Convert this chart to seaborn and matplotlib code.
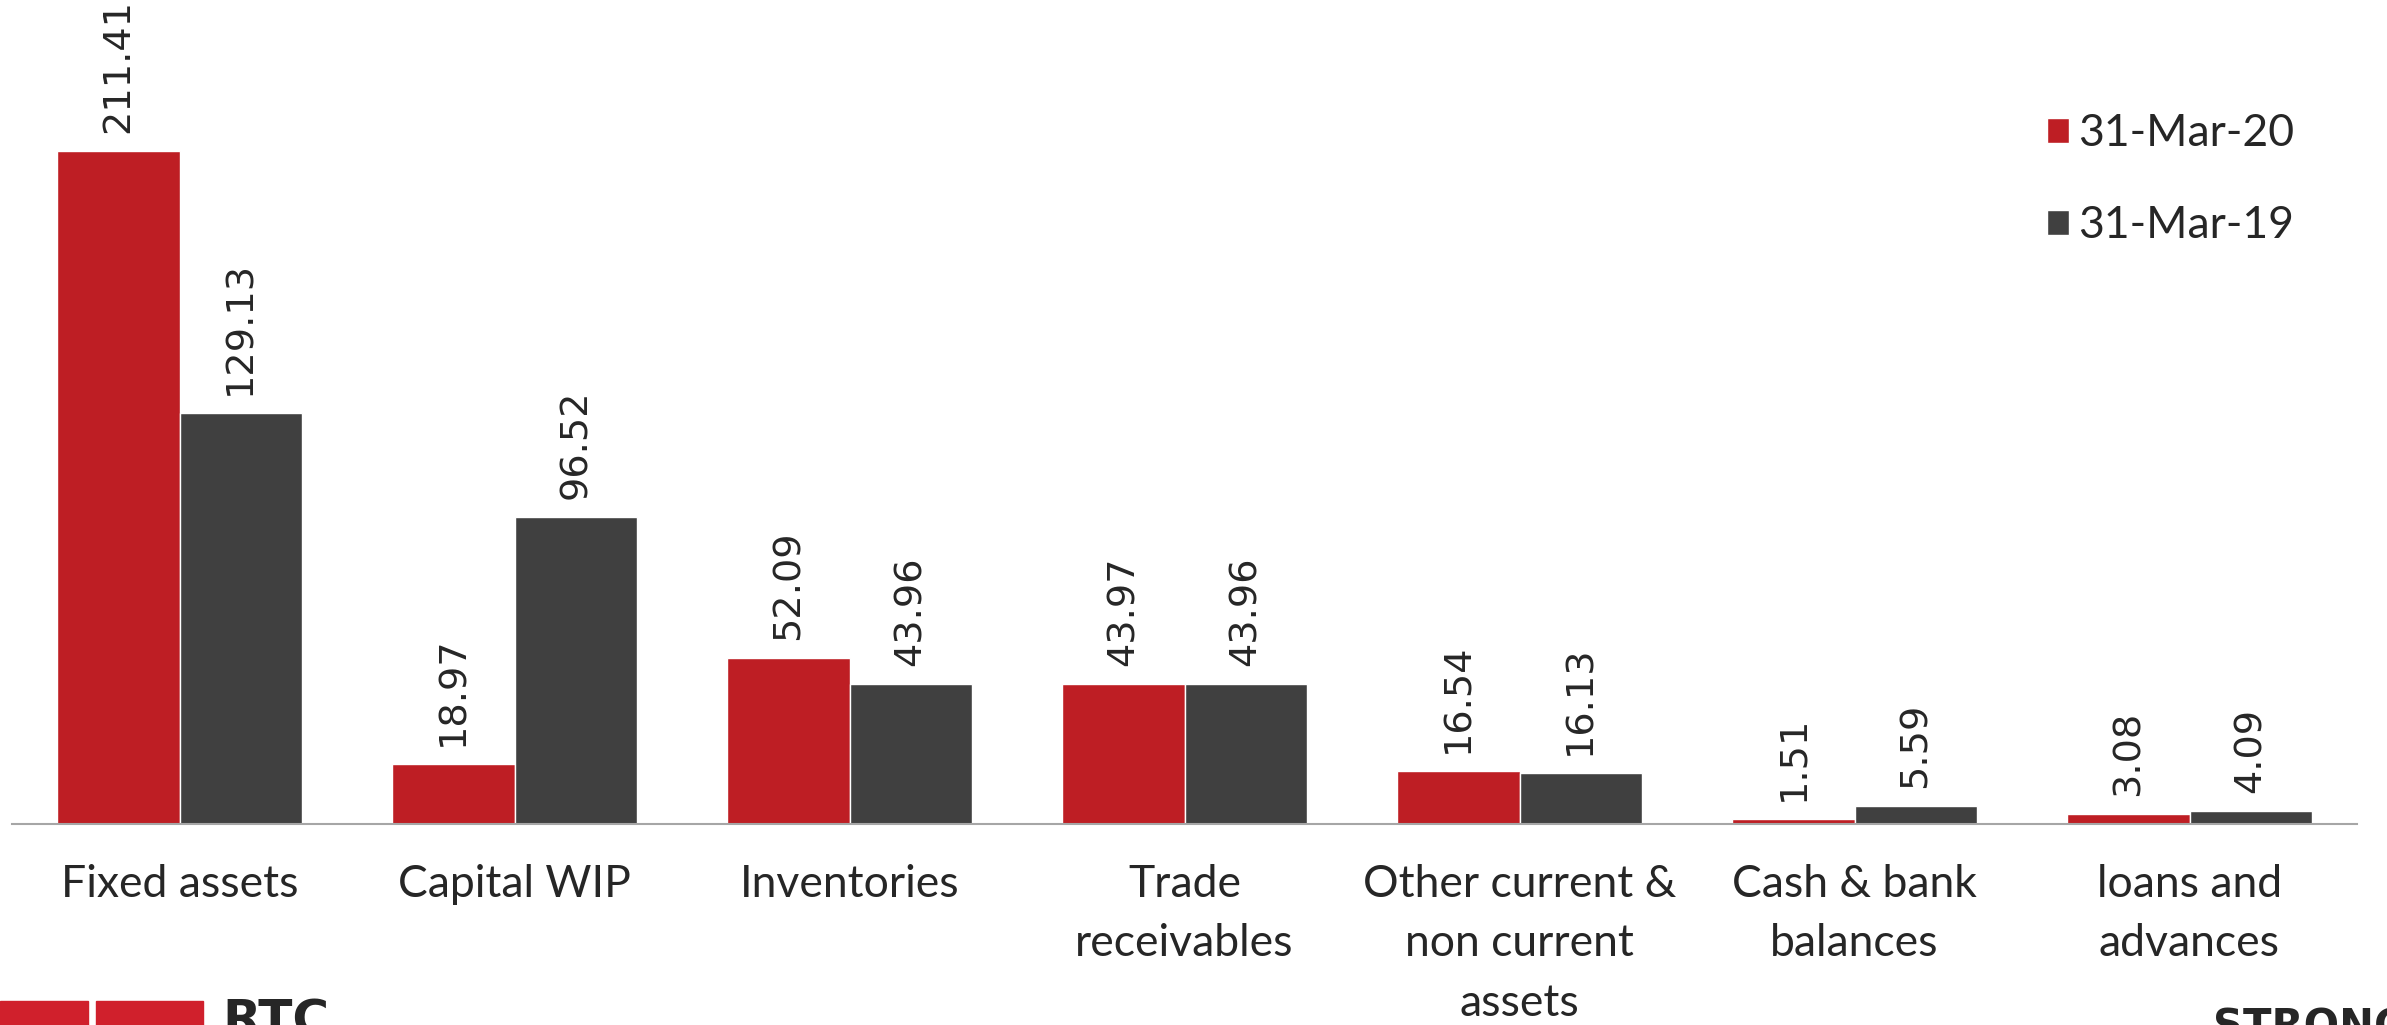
import matplotlib
matplotlib.use("Agg")
import matplotlib.pyplot as plt
import matplotlib.patches as mpatches
import pandas as pd
import seaborn as sns

categories = ["Fixed assets", "Capital WIP", "Inventories", "Trade\nreceivables",
              "Other current &\nnon current\nassets", "Cash & bank\nbalances", "loans and\nadvances"]
mar20 = [211.41, 18.97, 52.09, 43.97, 16.54, 1.51, 3.08]
mar19 = [129.13, 96.52, 43.96, 43.96, 16.13, 5.59, 4.09]
series = ["31-Mar-20", "31-Mar-19"]
colors = ["#BE1E24", "#404040"]

df = pd.DataFrame({
    "category": categories * 2,
    "value": mar20 + mar19,
    "period": [series[0]] * len(categories) + [series[1]] * len(categories),
})

sns.set_style("white")
plt.rcParams["font.family"] = ["Lato", "DejaVu Sans"]

W, H = 2387, 1025
fig = plt.figure(figsize=(W / 100, H / 100), dpi=100)
ax = fig.add_axes([12 / W, 1 - 824 / H, (2357 - 12) / W, 824 / H])

sns.barplot(data=df, x="category", y="value", hue="period", palette=colors,
            width=0.73, saturation=1, ax=ax, legend=True)

ax.set_ylim(0, 258.8)
ax.set_xlim(-0.5, 6.5)
for s in ["top", "right", "left"]:
    ax.spines[s].set_visible(False)
ax.spines["bottom"].set_color("#A6A6A6")
ax.spines["bottom"].set_linewidth(1.5)
ax.set_yticks([])
ax.set_xlabel("")
ax.set_ylabel("")
ax.tick_params(axis="x", length=0, pad=29, labelsize=32)
for lab in ax.get_xticklabels():
    lab.set_linespacing(1.55)
    lab.set_verticalalignment("top")

# value labels, rotated like the original
for cont in ax.containers:
    ax.bar_label(cont, labels=[f"{v:.2f}" for v in cont.datavalues], rotation=90,
                 padding=13, fontsize=27.5, family="DejaVu Sans")

ax.legend(loc="upper left", bbox_to_anchor=(2025 / W, 1 - 91 / H),
          bbox_transform=fig.transFigure, frameon=False, borderpad=0,
          fontsize=32, handlelength=0.5, handleheight=0.5, handletextpad=0.2,
          labelspacing=1.15)

# partially visible logos at the bottom edge
fig.patches.append(mpatches.Rectangle((0, 0), 88 / W, 24 / H, transform=fig.transFigure,
                                      color="#D0202C", figure=fig))
fig.patches.append(mpatches.Rectangle((96 / W, 0), 107 / W, 24 / H, transform=fig.transFigure,
                                      color="#D0202C", figure=fig))
fig.text(222 / W, -20 / H, "RTC", fontsize=36, fontweight="bold", family="DejaVu Sans",
         va="bottom", ha="left")
fig.text(2213 / W, -24 / H, "STRONG", fontsize=30, fontweight="bold", family="DejaVu Sans",
         va="bottom", ha="left")

fig.savefig("out.png", dpi=100)
